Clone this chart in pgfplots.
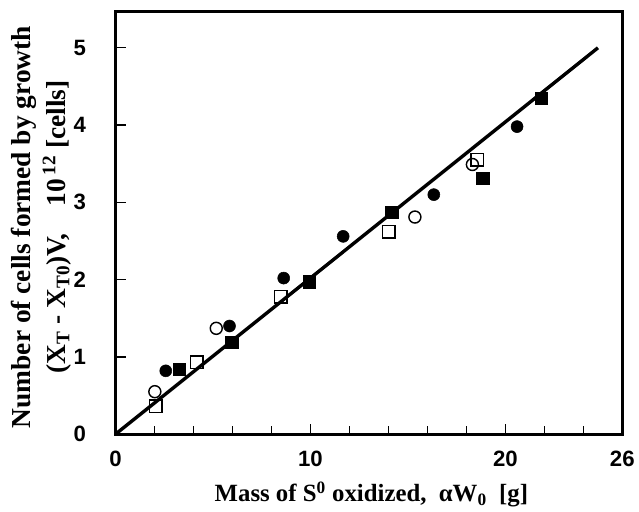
\documentclass[border=0pt]{standalone}
\usepackage{fontspec}
\setmainfont{Liberation Serif}
\newfontfamily\ticksf{Liberation Sans}
\usepackage{pgfplots}
\pgfplotsset{compat=1.18}
\begin{document}
\begin{tikzpicture}
\begin{axis}[
  at={(0,0)}, anchor=south west,
  scale only axis, width=388.5pt, height=324pt,
  xmin=0, xmax=26, ymin=0, ymax=5.47,
  axis line style={line width=2.2pt},
  xtick={0,10,20,26}, minor xtick={2,4,6,8,12,14,16,18,22,24},
  ytick={0,1,2,3,4,5},
  xtick pos=bottom, ytick pos=left, tick align=inside,
  major tick length=8pt, minor tick length=6pt,
  every tick/.style={black, line width=1pt},
  minor tick style={black, line width=1pt},
  tick label style={font=\ticksf\bfseries\fontsize{17}{19}\selectfont},
  /pgf/number format/assume math mode=true,
  yticklabel style={xshift=-19pt},
  xticklabel style={yshift=-9pt},
  xlabel={\bfseries Mass of S\textsuperscript{0} oxidized,\ \ αW\textsubscript{0}\ \ [g]},
  xlabel style={font=\fontsize{19}{22}\selectfont, at={(rel axis cs:0.505,0)}, yshift=-33pt, anchor=north},
  ylabel={\bfseries Number of cells formed by growth\\ \bfseries (X\textsubscript{T} - X\textsubscript{T0})V,\ \ \ \ 10\textsuperscript{\,12} [cells]},
  ylabel style={font=\fontsize{21}{27}\selectfont, align=center, at={(rel axis cs:-0.147,0.49)}, anchor=center},
  clip=false,
]
% regression line
\addplot[black, line width=2.6pt, no marks] coordinates {(0,0) (24.75,5.0)};
% open circles
\addplot[only marks, mark=o, mark size=4.6pt, mark options={line width=1.1pt, fill=white}] coordinates {
(2.02,0.55) (5.17,1.37) (15.36,2.81) (18.31,3.49)};
% open squares
\addplot[only marks, mark=square, mark size=4.8pt, mark options={line width=1.1pt, fill=white}] coordinates {
(2.06,0.36) (4.17,0.93) (8.47,1.78) (14.02,2.62) (18.56,3.55)};
% filled circles
\addplot[only marks, mark=*, mark size=4.6pt, black] coordinates {
(2.58,0.82) (5.85,1.40) (8.63,2.02) (11.68,2.56) (16.33,3.10) (20.6,3.98)};
% filled squares
\addplot[only marks, mark=square*, mark size=4.8pt, black] coordinates {
(3.28,0.84) (5.96,1.19) (9.94,1.97) (14.16,2.87) (18.84,3.31) (21.85,4.35)};
\end{axis}
\path[use as bounding box] (-88.5pt,-52.5pt) rectangle (390.8pt,332.8pt);
\end{tikzpicture}
\end{document}
